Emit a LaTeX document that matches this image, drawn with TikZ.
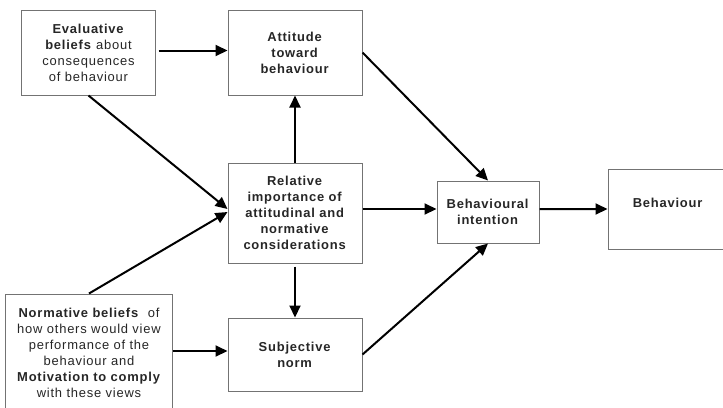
\documentclass[tikz,border=0pt]{standalone}
\usepackage{fontspec}
\setmainfont{Liberation Sans}[LetterSpace=6]
\usetikzlibrary{arrows.meta}
\begin{document}
\begin{tikzpicture}[x=1bp,y=-1bp,
  box/.style={draw=black!55, line width=1bp, fill=white, align=center, inner sep=0pt,
    font=\fontsize{13}{16}\selectfont, text=black!85},
  arr/.style={line width=2bp, -{Triangle[length=12bp,width=11bp]}, black},
  txt/.style={inner sep=0pt, font=\fontsize{13}{16}\selectfont, text=black!85}]
\clip (0,0) rectangle (723,407);
\fill[white] (0,0) rectangle (723,407);
\node[box, minimum width=133bp, minimum height=85bp] (ev) at (88.5,52.5)
  {\textbf{Evaluative}\\\textbf{beliefs} about\\consequences\\of behaviour};
\node[box, minimum width=134bp, minimum height=85bp] (att) at (295,52.5)
  {\textbf{Attitude}\\\textbf{toward}\\\textbf{behaviour}};
\node[box, minimum width=134bp, minimum height=100bp] (rel) at (295,213)
  {\textbf{Relative}\\\textbf{importance of}\\\textbf{attitudinal and}\\\textbf{normative}\\\textbf{considerations}};
\node[box, minimum width=166bp, minimum height=118bp] (norm) at (89,353)
  {\textbf{Normative beliefs}\ \ of\\how others would view\\performance of the\\behaviour and\\\textbf{Motivation to comply}\\with these views};
\node[box, minimum width=134bp, minimum height=73bp] (subj) at (295,354.5)
  {\textbf{Subjective}\\\textbf{norm}};
\node[box, minimum width=102bp, minimum height=62bp] (int) at (488,212)
  {\textbf{Behavioural}\\\textbf{intention}};
\node[box, minimum width=120bp, minimum height=80bp] (beh) at (668,209) {};
\node[txt] (behtxt) at (668,203) {\textbf{Behaviour}};
\draw[arr, shorten <=3bp] ([yshift=2bp]ev.east) -- ([yshift=2bp]att.west);
\draw[arr] (ev.south) -- ([yshift=4bp]rel.west);
\draw[arr] (norm.north) -- ([yshift=1bp]rel.west);
\draw[arr] (rel.north) -- (att.south);
\draw[arr, shorten <=3bp] (rel.south) -- (subj.north);
\draw[arr] ([yshift=2bp]norm.east) -- ([yshift=2bp]norm.east -| subj.west);
\draw[arr] (att.east) -- (int.north);
\draw[arr] (subj.east) -- (int.south);
\draw[arr] ([yshift=3bp]int.west -| rel.east) -- ([yshift=3bp]int.west);
\draw[arr] ([yshift=3bp]int.east) -- (beh.west);
\end{tikzpicture}
\end{document}
